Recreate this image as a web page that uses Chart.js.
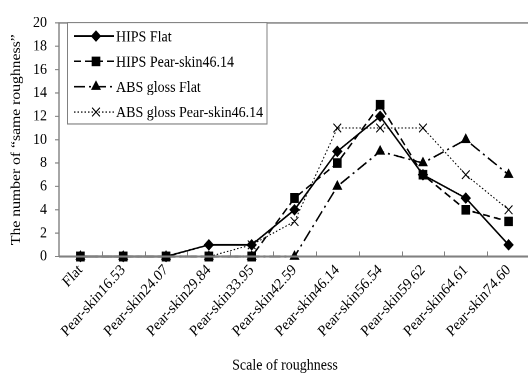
<!DOCTYPE html>
<html>
<head>
<meta charset="utf-8">
<script src="https://cdn.jsdelivr.net/npm/chart.js@4/dist/chart.umd.min.js"></script>
<style>
  html, body { margin: 0; padding: 0; background: #fff; overflow: hidden; }
  #wrap { width: 531px; height: 373px; overflow: hidden; }
  /* the source picture is slightly stretched vertically */
  #chart { transform-origin: 0 0; transform: scaleY(1.1201); }
</style>
</head>
<body>
<div id="wrap"><canvas id="chart" width="531" height="333"></canvas></div>
<script>
// Roughness chart: counts of "same roughness" per pear-skin scale

const categories = [
    'Flat', 'Pear-skin16.53', 'Pear-skin24.07', 'Pear-skin29.84',
    'Pear-skin33.95', 'Pear-skin42.59', 'Pear-skin46.14', 'Pear-skin56.54',
    'Pear-skin59.62', 'Pear-skin64.61', 'Pear-skin74.60'
];
const hipsFlat = [0, 0, 0, 1, 1, 4, 9, 12, 7, 5, 1];
const hipsPear = [0, 0, 0, 0, 0, 5, 8, 13, 7, 4, 3];
const absFlat = [0, 0, 0, 0, 0, 0, 6, 9, 8, 10, 7];
const absPear = [0, 0, 0, 0, 1, 3, 11, 11, 11, 7, 4];
const yTicks = [0, 2, 4, 6, 8, 10, 12, 14, 16, 18, 20];

const FONT = 'Liberation Serif, Times New Roman, serif';
const AXIS = '#808080';

const series = [
    { label: 'HIPS Flat', data: hipsFlat, style: 'rectRot', radius: 4.5, dash: [], fill: true },
    { label: 'HIPS Pear-skin46.14', data: hipsPear, style: 'rect', radius: 5.4, dash: [7, 4], fill: true },
    { label: 'ABS gloss Flat', data: absFlat, style: 'triangle', radius: 4.8, dash: [11, 4, 2, 4], fill: true },
    { label: 'ABS gloss Pear-skin46.14', data: absPear, style: 'crossRot', radius: 5.5, dash: [1.5, 2], fill: false },
];

function drawMarker(ctx, s, x, y) {
    ctx.fillStyle = s.fill ? '#000' : 'rgba(0,0,0,0)';
    ctx.strokeStyle = '#000';
    ctx.lineWidth = 1;
    Chart.helpers.drawPoint(ctx, { pointStyle: s.style, radius: s.radius, rotation: 0, borderWidth: 1 }, x, y);
}

// plot frame, inward x ticks, outward y ticks, legend box, x title
const framePlugin = {
    id: 'frame',
    afterDraw(chart) {
        const { ctx, chartArea: a, scales } = chart;
        ctx.save();
        ctx.strokeStyle = AXIS;
        ctx.lineWidth = 1.4;
        ctx.beginPath();
        ctx.moveTo(a.left, a.bottom);
        ctx.lineTo(a.left, a.top);
        ctx.lineTo(a.right, a.top);
        ctx.lineTo(a.right, a.bottom);
        ctx.stroke();
        ctx.lineWidth = 1.8;
        ctx.beginPath();
        ctx.moveTo(a.left, a.bottom);
        ctx.lineTo(a.right, a.bottom);
        ctx.stroke();

        ctx.lineWidth = 1;
        ctx.beginPath();
        yTicks.forEach(v => {
            const y = scales.y.getPixelForValue(v);
            ctx.moveTo(a.left - 4, y);
            ctx.lineTo(a.left, y);
        });
        const step = scales.x.getPixelForValue(1) - scales.x.getPixelForValue(0);
        for (let i = 1; i < categories.length; i++) {
            const x = Math.round(scales.x.getPixelForValue(i) - step / 2) + 0.5;
            ctx.moveTo(x, a.bottom);
            ctx.lineTo(x, a.bottom - 4.5);
        }
        ctx.stroke();

        // legend
        ctx.fillStyle = '#fff';
        ctx.fillRect(68, 20.5, 199, 90);
        ctx.strokeStyle = AXIS;
        ctx.lineWidth = 1;
        ctx.strokeRect(67.5, 20.1, 199.5, 90.6);
        ctx.font = '14px ' + FONT;
        ctx.textBaseline = 'middle';
        series.forEach((s, i) => {
            const y = 32.2 + i * 22.6;
            ctx.strokeStyle = '#000';
            ctx.lineWidth = s.fill ? 1.5 : 1;
            ctx.setLineDash(s.dash);
            ctx.beginPath();
            ctx.moveTo(74, y);
            ctx.lineTo(114, y);
            ctx.stroke();
            ctx.setLineDash([]);
            drawMarker(ctx, s, 96, y);
            ctx.fillStyle = '#000';
            ctx.fillText(s.label, 116, y + 1);
        });

        // x axis title
        ctx.textAlign = 'center';
        ctx.fillText('Scale of roughness', 285, 326.5);
        ctx.restore();
    }
};

new Chart(document.getElementById('chart'), {
    type: 'line',
    data: {
        labels: categories,
        datasets: series.map(s => ({
            label: s.label,
            data: s.data,
            borderColor: '#000',
            backgroundColor: '#000',
            borderWidth: s.fill ? 1.5 : 1,
            borderDash: s.dash,
            pointStyle: s.style,
            pointRadius: s.radius,
            pointBorderWidth: 1,
            pointBackgroundColor: s.fill ? '#000' : 'rgba(0,0,0,0)',
            tension: 0,
            clip: false,
        })),
    },
    options: {
        responsive: false,
        animation: false,
        devicePixelRatio: 2,
        layout: { autoPadding: false, padding: { top: 15.2, right: 1, left: 0, bottom: 0 } },
        plugins: { legend: { display: false }, tooltip: { enabled: false } },
        scales: {
            x: {
                offset: true,
                afterFit: scale => { scale.height = 104; },
                grid: { display: false, drawTicks: false },
                border: { display: false },
                ticks: {
                    minRotation: 45, maxRotation: 45, autoSkip: false, padding: 4,
                    color: '#000', font: { family: FONT, size: 14 },
                },
            },
            y: {
                min: 0, max: 20,
                afterFit: scale => { scale.width = 59; },
                afterBuildTicks: scale => { scale.ticks = yTicks.map(v => ({ value: v })); },
                grid: { display: false, drawTicks: false },
                border: { display: false },
                ticks: { padding: 12, color: '#000', font: { family: FONT, size: 14 } },
                title: {
                    display: true, text: 'The number of \u201csame roughness\u201d', color: '#000',
                    font: { family: FONT, size: 14 }, padding: { top: 8, bottom: 4 },
                },
            },
        },
    },
    plugins: [framePlugin],
});
</script>
</body>
</html>
